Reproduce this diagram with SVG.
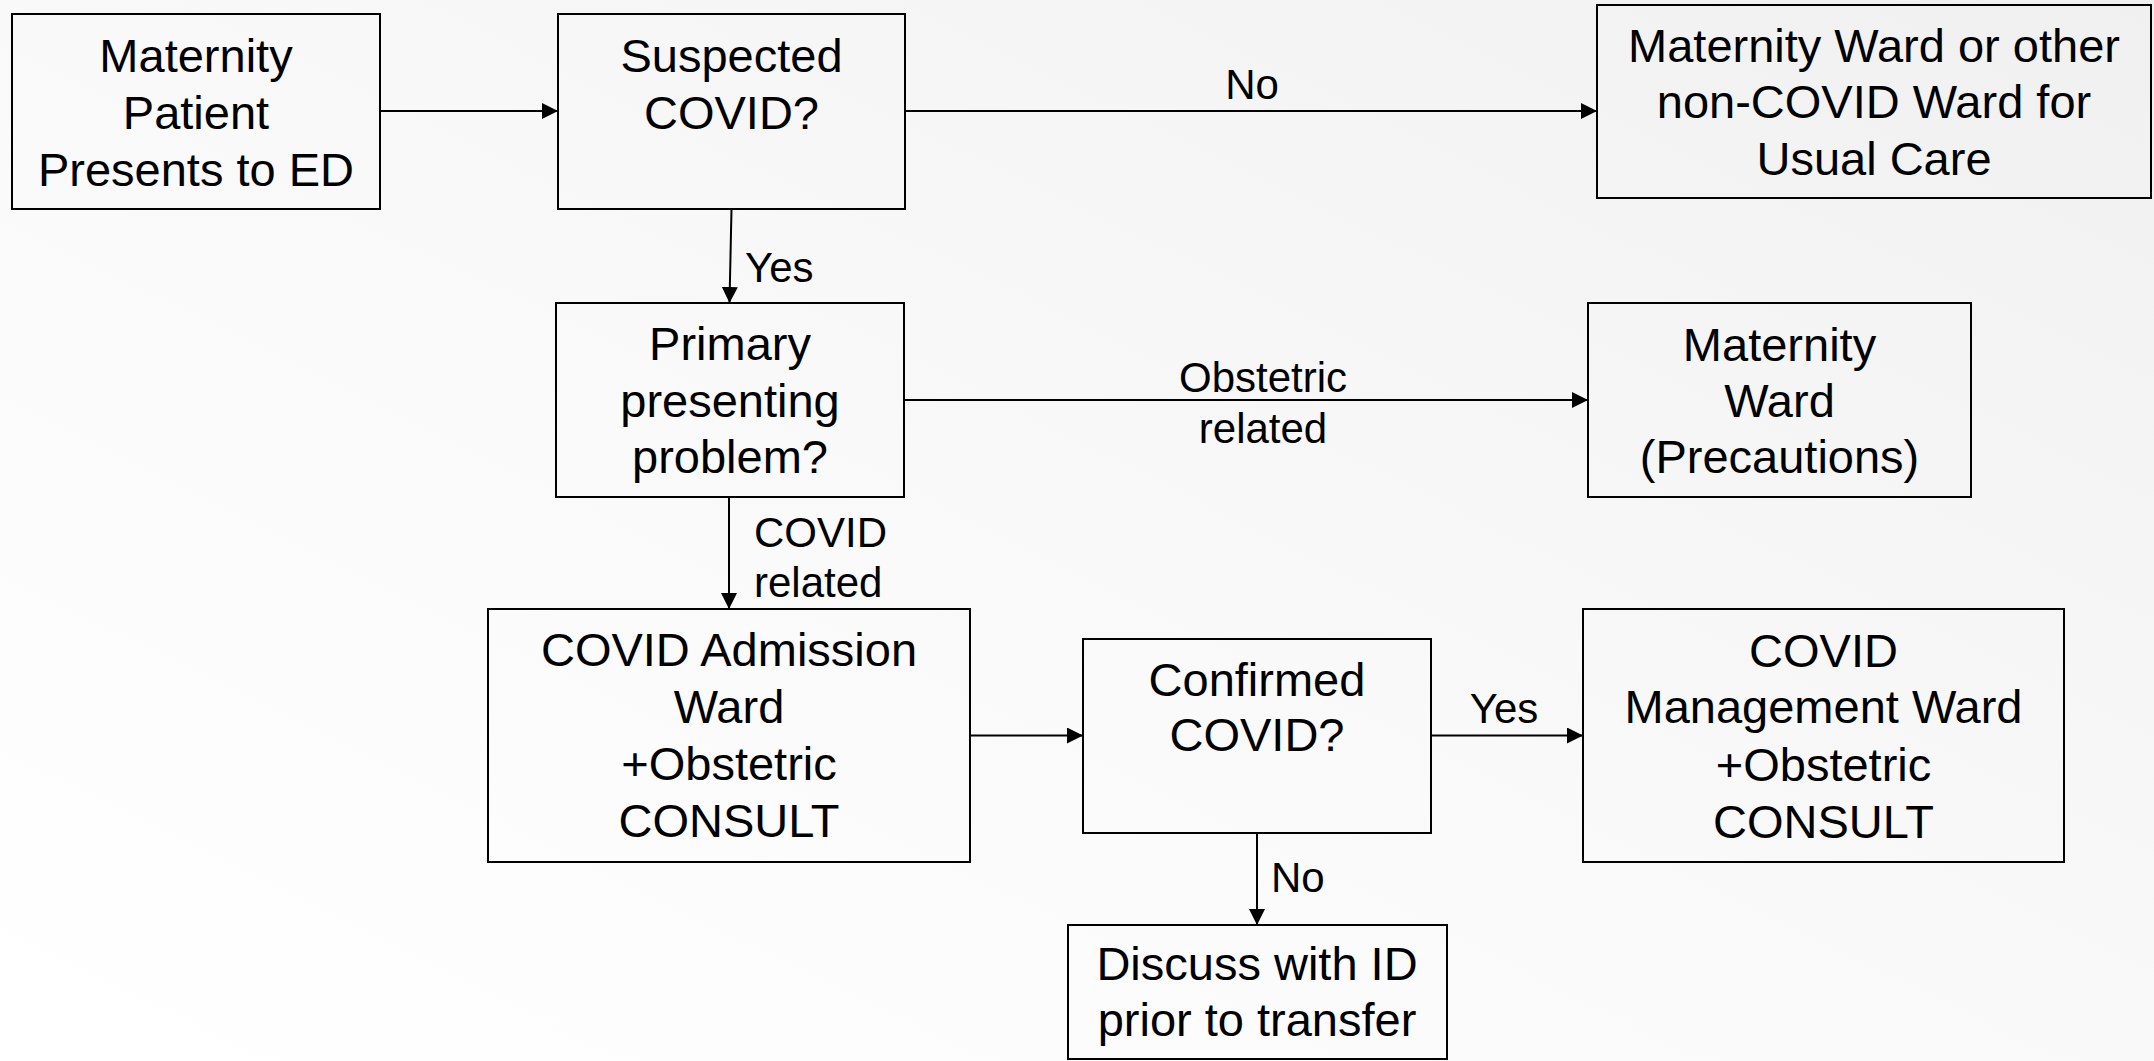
<svg xmlns="http://www.w3.org/2000/svg" width="2154" height="1061" viewBox="0 0 2154 1061">
<defs>
<linearGradient id="bg" x1="0" y1="1" x2="1" y2="0">
<stop offset="0" stop-color="#ffffff"/>
<stop offset="0.5" stop-color="#f9f9f9"/>
<stop offset="1" stop-color="#f0f0f0"/>
</linearGradient>
<marker id="arr" markerUnits="userSpaceOnUse" markerWidth="16" markerHeight="16" viewBox="0 0 15 15" refX="15" refY="7.5" orient="auto">
<path d="M0,0 L15,7.5 L0,15 z" fill="#000"/>
</marker>
<style>
.box{fill:none;stroke:#000;stroke-width:2}
.t{font-family:"Liberation Sans",Arial,sans-serif;font-size:47px;fill:#000;text-anchor:middle}
.l{font-family:"Liberation Sans",Arial,sans-serif;font-size:42px;fill:#000}
.c{stroke:#000;stroke-width:2;fill:none;marker-end:url(#arr)}
</style>
</defs>
<rect x="0" y="0" width="2154" height="1061" fill="url(#bg)"/>
<g id="connectors">
<line class="c" x1="380" y1="111" x2="558" y2="111"/>
<line class="c" x1="905" y1="111" x2="1597" y2="111"/>
<text class="l" x="1252" y="99" text-anchor="middle">No</text>
<line class="c" x1="731.5" y1="209" x2="729.5" y2="303"/>
<text class="l" x="745" y="282">Yes</text>
<line class="c" x1="904" y1="400" x2="1588" y2="400"/>
<text class="l" x="1263" y="392" text-anchor="middle">Obstetric</text>
<text class="l" x="1263" y="443" text-anchor="middle">related</text>
<line class="c" x1="729" y1="497" x2="729" y2="609"/>
<text class="l" x="754" y="547">COVID</text>
<text class="l" x="754" y="597">related</text>
<line class="c" x1="970" y1="735.5" x2="1083" y2="735.5"/>
<line class="c" x1="1431" y1="735.5" x2="1583" y2="735.5"/>
<text class="l" x="1504" y="723" text-anchor="middle">Yes</text>
<line class="c" x1="1257" y1="833" x2="1257" y2="925"/>
<text class="l" x="1271" y="892">No</text>
</g>
<g id="n1">
<rect class="box" x="12" y="14" width="368" height="195"/>
<text class="t" x="196" y="72">Maternity</text>
<text class="t" x="196" y="129">Patient</text>
<text class="t" x="196" y="186">Presents to ED</text>
</g>
<g id="n2">
<rect class="box" x="558" y="14" width="347" height="195"/>
<text class="t" x="731.5" y="72">Suspected</text>
<text class="t" x="731.5" y="129">COVID?</text>
</g>
<g id="n3">
<rect class="box" x="1597" y="5" width="554" height="193"/>
<text class="t" x="1874" y="62">Maternity Ward or other</text>
<text class="t" x="1874" y="118">non-COVID Ward for</text>
<text class="t" x="1874" y="175">Usual Care</text>
</g>
<g id="n4">
<rect class="box" x="556" y="303" width="348" height="194"/>
<text class="t" x="730" y="360">Primary</text>
<text class="t" x="730" y="417">presenting</text>
<text class="t" x="730" y="473">problem?</text>
</g>
<g id="n5">
<rect class="box" x="1588" y="303" width="383" height="194"/>
<text class="t" x="1779.5" y="361">Maternity</text>
<text class="t" x="1779.5" y="417">Ward</text>
<text class="t" x="1779.5" y="473">(Precautions)</text>
</g>
<g id="n6">
<rect class="box" x="488" y="609" width="482" height="253"/>
<text class="t" x="729" y="666">COVID Admission</text>
<text class="t" x="729" y="723">Ward</text>
<text class="t" x="729" y="780">+Obstetric</text>
<text class="t" x="729" y="837">CONSULT</text>
</g>
<g id="n7">
<rect class="box" x="1083" y="639" width="348" height="194"/>
<text class="t" x="1257" y="696">Confirmed</text>
<text class="t" x="1257" y="751">COVID?</text>
</g>
<g id="n8">
<rect class="box" x="1583" y="609" width="481" height="253"/>
<text class="t" x="1823.5" y="667">COVID</text>
<text class="t" x="1823.5" y="723">Management Ward</text>
<text class="t" x="1823.5" y="781">+Obstetric</text>
<text class="t" x="1823.5" y="838">CONSULT</text>
</g>
<g id="n9">
<rect class="box" x="1068" y="925" width="379" height="134"/>
<text class="t" x="1257" y="980">Discuss with ID</text>
<text class="t" x="1257" y="1036">prior to transfer</text>
</g>
</svg>
